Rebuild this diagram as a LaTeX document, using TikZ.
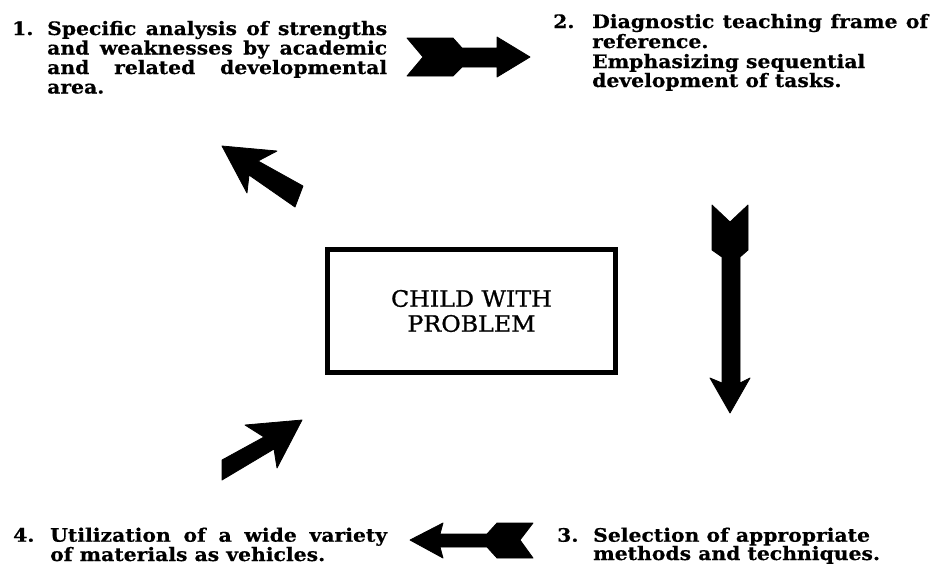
\documentclass[tikz,border=0pt]{standalone}
\usepackage{fontspec}
\setmainfont{DejaVu Serif}
\newfontfamily\bodyfont[FakeStretch=1.1,FakeBold=0.5]{DejaVu Serif}
\newfontfamily\boxfont[FakeStretch=1.05,FakeBold=1]{DejaVu Serif}
\begin{document}
\begin{tikzpicture}[x=1pt,y=-1pt,
  txt/.style={anchor=base west, inner sep=0pt, font=\bodyfont\bfseries\fontsize{18.5}{20}\selectfont},
  blk/.style={fill=black, draw=black, line join=round, line width=0.8pt},
  centerbox/.style={draw=black, line width=5pt, minimum width=288pt, minimum height=123pt,
    inner sep=0pt, align=center, font=\boxfont\fontsize{22.6}{25}\selectfont}]
\useasboundingbox (0,0) rectangle (933,566);

% block 1
\node[txt] (n1) at (12,35) {1.};
\node[txt] (t1a) at (47,35) {\makebox[340pt][s]{Specific analysis of strengths}};
\node[txt] (t1b) at (47,54.5) {\makebox[340pt][s]{and weaknesses by academic}};
\node[txt] (t1c) at (47,74) {\makebox[340pt][s]{and related developmental}};
\node[txt] (t1d) at (47,93.5) {area.};

% block 2
\node[txt] (n2) at (553,28) {2.};
\node[txt] (t2a) at (592,28) {\makebox[336pt][s]{Diagnostic teaching frame of}};
\node[txt] (t2b) at (592,48) {reference.};
\node[txt] (t2c) at (592,68) {Emphasizing sequential};
\node[txt] (t2d) at (592,87) {development of tasks.};

% block 3
\node[txt] (n3) at (557,541.7) {3.};
\node[txt] (t3a) at (593,541.7) {Selection of appropriate};
\node[txt] (t3b) at (593,560) {methods and techniques.};

% block 4
\node[txt] (n4) at (13,541.7) {4.};
\node[txt] (t4a) at (50,541.7) {\makebox[337pt][s]{Utilization of a wide variety}};
\node[txt] (t4b) at (50,561) {of materials as vehicles.};

% center box
\node[centerbox] (child) at (471.5,311) {CHILD WITH\\PROBLEM};

% arrows
\fill[blk] (407,38) -- (453,38) -- (462,48) -- (497,48) -- (497,37) -- (530,57)
  -- (497,77) -- (497,67) -- (462,67) -- (453,76) -- (407,76) -- (423,57) -- cycle;
\fill[blk] (712,205) -- (730,222) -- (748,205) -- (748,250) -- (740,257) -- (740,383)
  -- (750,378) -- (730,413) -- (710,378) -- (722,383) -- (722,257) -- (712,250) -- cycle;
\fill[blk] (410,540) -- (443,523) -- (440,534) -- (487,534) -- (497,523) -- (533,523)
  -- (520,540) -- (533,558) -- (497,558) -- (487,547) -- (440,547) -- (443,558) -- cycle;
\fill[blk] (222,146) -- (277,151) -- (258,161) -- (303,186) -- (295,207) -- (249,175)
  -- (247,193) -- cycle;
\fill[blk] (302,420) -- (277,468) -- (274,449) -- (222,480) -- (222,460) -- (264,437)
  -- (245,425) -- cycle;
\end{tikzpicture}
\end{document}
